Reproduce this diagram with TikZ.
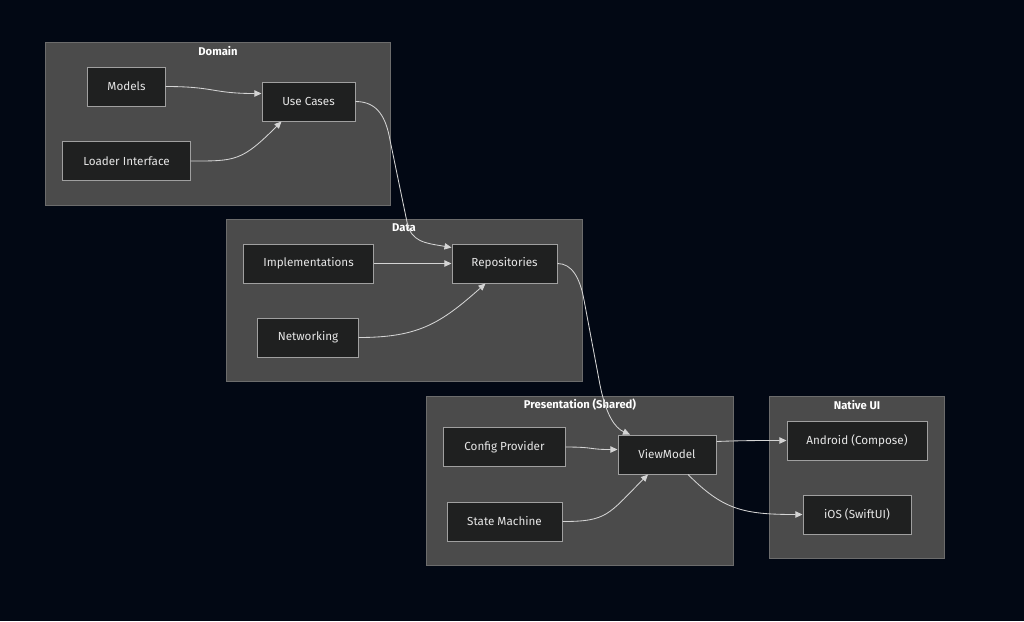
\documentclass[tikz,border=0pt]{standalone}
\usepackage{fontspec}
\setmainfont{Fira Sans}
\usetikzlibrary{arrows.meta}
\usetikzlibrary{calc}

\definecolor{bgnavy}{HTML}{020814}
\definecolor{grpfill}{HTML}{4B4B4B}
\definecolor{grpline}{HTML}{6C6C6C}
\definecolor{boxfill}{HTML}{1F2020}
\definecolor{boxline}{HTML}{A0A0A0}
\definecolor{boxtext}{HTML}{E6E6E6}
\definecolor{linkc}{HTML}{D4D4D4}

\begin{document}
\begin{tikzpicture}[x=0.025cm,y=-0.025cm,
	box/.style={draw=boxline,fill=boxfill,text=boxtext,line width=0.7pt,minimum height=0.975cm,inner sep=0pt,font=\fontsize{8.3}{10}\selectfont},
	grp/.style={draw=grpline,fill=grpfill,line width=0.7pt},
	grplabel/.style={text=white,font=\fontsize{8}{10}\selectfont\bfseries},
	link/.style={draw=linkc,line width=0.6pt,-{Triangle[length=5pt,width=4.5pt]}}]
	\fill[bgnavy] (0,0) rectangle (1024,621);
	\useasboundingbox (0,0) rectangle (1024,621);
	% groups
	\draw[grp] (45,42) rectangle (390,205);
	\draw[grp] (226,219) rectangle (582,381);
	\draw[grp] (426,396) rectangle (733,565);
	\draw[grp] (769,396) rectangle (944,558);
	\node[grplabel] (gdom) at (218,51) {Domain};
	\node[grplabel] (gdat) at (404,228) {Data};
	\node[grplabel] (gpre) at (580,405) {Presentation (Shared)};
	\node[grplabel] (gnat) at (857,405) {Native UI};
	% boxes
	\node[box,minimum width=1.925cm] (mod) at (126.5,86.5) {Models};
	\node[box,minimum width=2.325cm] (uc) at (308.5,101.5) {Use Cases};
	\node[box,minimum width=3.175cm] (ldr) at (126.5,161) {Loader Interface};
	\node[box,minimum width=3.225cm] (imp) at (308.5,263.5) {Implementations};
	\node[box,minimum width=2.625cm] (rep) at (504.5,263.5) {Repositories};
	\node[box,minimum width=2.5cm] (net) at (308,337.5) {Networking};
	\node[box,minimum width=3.025cm] (cfg) at (504.5,447) {Config Provider};
	\node[box,minimum width=2.45cm] (vm) at (667,454.5) {ViewModel};
	\node[box,minimum width=2.875cm] (sm) at (504.5,521.5) {State Machine};
	\node[box,minimum width=3.5cm] (and) at (857,440.5) {Android (Compose)};
	\node[box,minimum width=2.7cm] (ios) at (857,514.5) {iOS (SwiftUI)};
	% links
	\draw[link] (mod.east) .. controls +(50,0) and +(-50,0) .. ($(uc.west)+(0,-8)$);
	\draw[link] (ldr.east) .. controls +(45,0) and +(-40,40) .. ($(uc.south)+(-27,0)$);
	\draw[link] (uc.east) .. controls (378,101.5) and (386,118) .. (390,140) -- (407,222) .. controls (411,242) and (425,243) .. ($(rep.west)+(0,-16)$);
	\draw[link] (imp) -- (rep);
	\draw[link] (net.east) .. controls +(60,0) and +(-45,40) .. ($(rep.south)+(-19,0)$);
	\draw[link] (rep.east) .. controls (572,263.5) and (580,278) .. (584,300) -- (600,385) .. controls (606,415) and (615,428) .. ($(vm.north)+(-37,0)$);
	\draw[link] (cfg.east) .. controls +(30,0) and +(-30,0) .. ($(vm.west)+(0,-5)$);
	\draw[link] (sm.east) .. controls +(45,0) and +(-40,40) .. ($(vm.south)+(-19,0)$);
	\draw[link] ($(vm.east)+(0,-13)$) .. controls +(25,-1) and +(-30,0) .. (and.west);
	\draw[link] ($(vm.south)+(21,0)$) .. controls +(35,35) and +(-60,0) .. (ios.west);
\end{tikzpicture}
\end{document}
